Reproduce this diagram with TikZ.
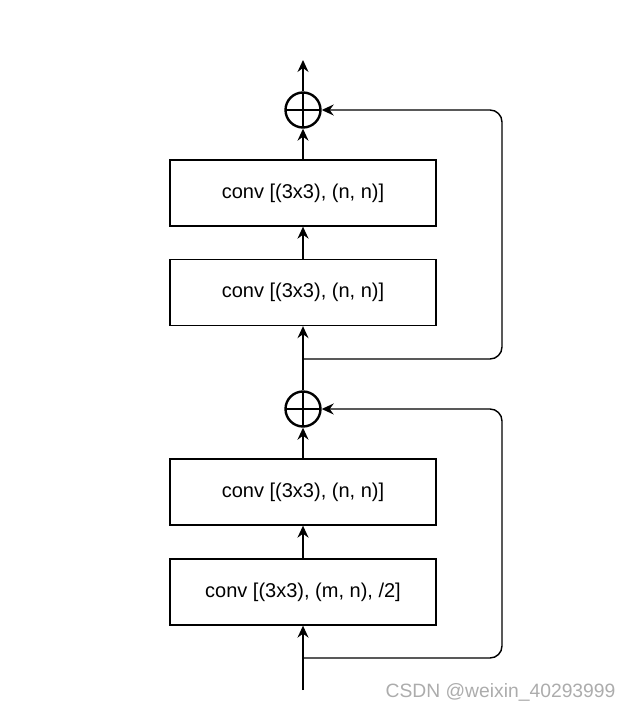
\documentclass[tikz,border=0pt]{standalone}
\usepackage{fontspec}
\setmainfont{Liberation Sans}
\usetikzlibrary{arrows.meta}

\tikzset{
  convbox/.style={draw, line width=1.3pt, minimum width=266pt, minimum height=66pt,
    inner sep=0pt, font=\fontsize{20}{24}\selectfont},
  sumnode/.style={draw, circle, line width=2.4pt, minimum size=35pt, inner sep=0pt,
    path picture={\draw[line width=2.4pt] (path picture bounding box.north) -- (path picture bounding box.south)
      (path picture bounding box.west) -- (path picture bounding box.east);}},
  flow/.style={line width=1.4pt, -{Stealth[length=12pt,width=11pt,inset=4pt]}},
  flowbold/.style={flow, line width=2.5pt},
  skip/.style={flow, rounded corners=12pt}
}

\begin{document}
\begin{tikzpicture}[x=1pt,y=1pt]
  \useasboundingbox (0,0) rectangle (635,-711);

  % sum nodes
  \node[sumnode] (addTop) at (303,-110) {};
  \node[sumnode] (addMid) at (303,-409) {};

  % conv blocks
  \node[convbox] (convD) at (303,-193) {conv [(3x3), (n, n)]};
  \node[convbox] (convC) at (303,-292.5) {conv [(3x3), (n, n)]};
  \node[convbox] (convB) at (303,-492) {conv [(3x3), (n, n)]};
  \node[convbox] (convA) at (303,-592) {conv [(3x3), (m, n), /2]};

  % in / out and branch points
  \coordinate (input) at (303,-690);
  \coordinate (output) at (303,-60);
  \coordinate (splitA) at (303,-658);
  \coordinate (splitC) at (303,-359);

  % main path
  \draw[flow] (input) -- (convA.south);
  \draw[flowbold] (convA.north) -- (convB.south);
  \draw[flow] (convB.north) -- (addMid.south);
  \draw[flow] (addMid.north) -- (convC.south);
  \draw[flowbold] (convC.north) -- (convD.south);
  \draw[flow] (convD.north) -- (addTop.south);
  \draw[flow] (addTop.north) -- (output);

  % shortcuts
  \draw[skip] (splitA) -- ++(199,0) |- (addMid.east);
  \draw[skip] (splitC) -- ++(199,0) |- (addTop.east);

  \node[anchor=east, text=gray!65, font=\fontsize{19.3}{23}\selectfont] (mark) at (619,-692) {CSDN @weixin\_40293999};
\end{tikzpicture}
\end{document}
